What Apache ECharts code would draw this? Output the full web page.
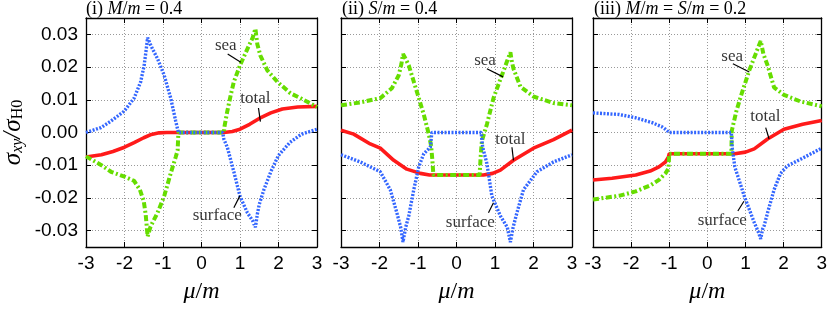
<!DOCTYPE html>
<html><head><meta charset="utf-8">
<script src="https://cdn.jsdelivr.net/npm/echarts@6/dist/echarts.min.js"></script>
<style>html,body{margin:0;padding:0;background:#fff}#c{width:830px;height:309px}</style>
</head><body><div id="c"></div><script>
// ---- data ----
const xTicks = [-3, -2, -1, 0, 1, 2, 3];
const yTicks = [-0.03, -0.02, -0.01, 0, 0.01, 0.02, 0.03];
const panelTitles = [
  '{n|(i) }{i|M}{n|/}{i|m}{n| = 0.4}',
  '{n|(ii) }{i|S}{n|/}{i|m}{n| = 0.4}',
  '{n|(iii) }{i|M}{n|/}{i|m}{n| = }{i|S}{n|/}{i|m}{n| = 0.2}'
];
const annoTexts = ['sea', 'total', 'surface'];

const p1Total = [[-3,-0.0075],[-2.6,-0.0068],[-2.3,-0.0058],[-2,-0.0045],[-1.75,-0.0031],[-1.5,-0.0016],[-1.3,-0.0006],[-1.1,-0.0001],[-0.9,0],[0.58,0],[0.8,0.0003],[1,0.001],[1.25,0.0025],[1.5,0.0043],[1.8,0.006],[2.1,0.0072],[2.5,0.0078],[3,0.008]];
const p1Sea = [[-3,-0.0073],[-2.6,-0.010],[-2.35,-0.012],[-2,-0.0135],[-1.75,-0.0148],[-1.6,-0.0175],[-1.5,-0.021],[-1.45,-0.025],[-1.4,-0.0318],[-1.33,-0.029],[-1.27,-0.0275],[-1.14,-0.0245],[-0.97,-0.0195],[-0.8,-0.0125],[-0.67,-0.0075],[-0.62,-0.0055],[-0.6,0],[0.58,0],[0.6,0.002],[0.67,0.0065],[0.76,0.0115],[0.84,0.0155],[1,0.0205],[1.19,0.0255],[1.33,0.029],[1.4,0.0317],[1.45,0.027],[1.53,0.0235],[1.71,0.019],[1.97,0.0155],[2.31,0.012],[2.57,0.0105],[3,0.0078]];
const p1Surface = [[-3,0],[-2.61,0.0015],[-2.35,0.0035],[-2.01,0.0065],[-1.75,0.0105],[-1.58,0.0155],[-1.49,0.0205],[-1.44,0.025],[-1.4,0.029],[-1.33,0.027],[-1.27,0.0255],[-1.14,0.0225],[-0.97,0.0175],[-0.8,0.0105],[-0.67,0.0035],[-0.6,0],[0.55,0],[0.58,-0.002],[0.67,-0.0045],[0.84,-0.012],[1,-0.0195],[1.19,-0.0245],[1.33,-0.027],[1.4,-0.029],[1.45,-0.025],[1.5,-0.022],[1.62,-0.0175],[1.8,-0.012],[2,-0.007],[2.3,-0.003],[2.6,-0.0005],[3,0.001]];

const p2Total = [[-3,0.0007],[-2.67,-0.0005],[-2.24,-0.0035],[-1.98,-0.0048],[-1.63,-0.0085],[-1.29,-0.0112],[-0.94,-0.0125],[-0.7,-0.013],[0.7,-0.013],[0.94,-0.0125],[1.14,-0.0115],[1.48,-0.0085],[2,-0.0048],[2.52,-0.0022],[3,0.0007]];
const p2Sea = [[-3,0.0083],[-2.5,0.0092],[-1.98,0.0105],[-1.68,0.0135],[-1.5,0.0175],[-1.43,0.021],[-1.39,0.024],[-1.32,0.0225],[-1.24,0.0205],[-1.03,0.0125],[-0.85,0.0055],[-0.72,-0.0005],[-0.66,-0.004],[-0.63,-0.008],[-0.6,-0.013],[0.6,-0.013],[0.63,-0.007],[0.66,-0.0025],[0.79,0.0025],[0.96,0.0105],[1.18,0.0175],[1.32,0.022],[1.4,0.0245],[1.44,0.0215],[1.48,0.0195],[1.66,0.014],[2,0.011],[2.52,0.009],[3,0.0083]];
const p2Surface = [[-3,-0.0068],[-2.5,-0.009],[-1.98,-0.012],[-1.72,-0.0175],[-1.55,-0.0245],[-1.45,-0.029],[-1.39,-0.0335],[-1.32,-0.029],[-1.24,-0.0255],[-1.11,-0.0175],[-0.98,-0.0105],[-0.85,-0.0065],[-0.68,-0.0045],[-0.64,0],[0.64,0],[0.68,-0.0045],[0.79,-0.0095],[0.92,-0.0195],[1.14,-0.0255],[1.32,-0.029],[1.4,-0.0335],[1.47,-0.029],[1.57,-0.0245],[1.74,-0.0175],[2.09,-0.012],[2.52,-0.009],[3,-0.0068]];

const p3Total = [[-3,-0.0145],[-2.5,-0.014],[-1.88,-0.013],[-1.5,-0.0118],[-1.27,-0.0105],[-1.1,-0.009],[-1.02,-0.0075],[-1,-0.0065],[0.72,-0.0065],[1,-0.006],[1.23,-0.005],[1.58,-0.002],[2.01,0.001],[2.5,0.0025],[3,0.0037]];
const p3Sea = [[-3,-0.0205],[-2.3,-0.0193],[-1.88,-0.018],[-1.5,-0.0162],[-1.27,-0.0145],[-1.1,-0.0125],[-1.02,-0.011],[-1,-0.0065],[0.63,-0.0065],[0.64,0.0005],[0.76,0.0065],[0.89,0.0115],[1.1,0.019],[1.25,0.0235],[1.4,0.028],[1.47,0.024],[1.58,0.0205],[1.75,0.0138],[2.01,0.0115],[2.44,0.0095],[3,0.008]];
const p3Surface = [[-3,0.006],[-2.31,0.0055],[-1.88,0.0045],[-1.45,0.003],[-1.2,0.0018],[-1.1,0.001],[-1,0],[0.63,0],[0.65,-0.0045],[0.72,-0.0105],[0.97,-0.0195],[1.23,-0.0275],[1.34,-0.0305],[1.4,-0.0325],[1.45,-0.0295],[1.49,-0.0285],[1.58,-0.0245],[1.75,-0.0175],[1.92,-0.0125],[2.1,-0.0102],[2.44,-0.0082],[3,-0.0048]];

// annotation anchor points (data coords): text positions and pointer segments
const p1AnnoText = [[0.63,0.0265],[1.40,0.0105],[0.41,-0.0255]];
const p1AnnoLine = [[[0.68,0.024],[1.02,0.0215]],[[1.48,0.0075],[1.53,0.0033]],[[0.84,-0.023],[1.0,-0.0193]]];
const p2AnnoText = [[0.74,0.022],[1.40,-0.002],[0.36,-0.0275]];
const p2AnnoLine = [[[0.79,0.0195],[1.21,0.017]],[[1.44,-0.0045],[1.48,-0.0085]],[[0.83,-0.0245],[0.96,-0.0215]]];
const p3AnnoText = [[0.65,0.0233],[1.52,0.005],[0.39,-0.027]];
const p3AnnoLine = [[[0.67,0.021],[1.10,0.0185]],[[1.53,0.0015],[1.62,-0.002]],[[0.80,-0.024],[0.96,-0.021]]];

const panels = [
  {total: p1Total, sea: p1Sea, surface: p1Surface, annoText: p1AnnoText, annoLine: p1AnnoLine},
  {total: p2Total, sea: p2Sea, surface: p2Surface, annoText: p2AnnoText, annoLine: p2AnnoLine},
  {total: p3Total, sea: p3Sea, surface: p3Surface, annoText: p3AnnoText, annoLine: p3AnnoLine}
];

// ---- layout / style ----
const gridLeft = [85, 341, 593];
const gridWidth = [232, 231, 232];
const SANS = 'Liberation Sans';
const SERIF = 'Liberation Serif';
const RED = '#ff1a1a', GREEN = '#66dd00', BLUE = '#3366ff';

const chart = echarts.init(document.getElementById('c'), null, {renderer: 'canvas'});

const grids = [], xAxes = [], yAxes = [], series = [], titles = [];
const titleRich = {
  n: {fontFamily: SERIF, fontSize: 18, fontWeight: 'normal', color: '#000'},
  i: {fontFamily: SERIF, fontSize: 18, fontWeight: 'normal', fontStyle: 'italic', color: '#000'}
};

panels.forEach((p, k) => {
  grids.push({left: gridLeft[k], top: 18, width: gridWidth[k], height: 232, show: false});
  titles.push({text: panelTitles[k], left: gridLeft[k] + 1, top: 0, padding: 0,
    textStyle: {fontWeight: 'normal', rich: titleRich}});
  const axLine = {show: true, onZero: false, lineStyle: {color: '#000', width: 1.3}};
  xAxes.push({
    type: 'value', gridIndex: k, min: -3, max: 3, interval: 1, position: 'bottom',
    axisLine: axLine, axisTick: {inside: true, length: 5, lineStyle: {color: '#000', width: 1}},
    axisLabel: {fontFamily: SANS, fontSize: 19, color: '#000', margin: 7,
      formatter: v => String(v)},
    splitLine: {show: true, lineStyle: {color: '#999', type: [1, 2], width: 1}},
    name: '{i|μ}{n|/}{i|m}', nameLocation: 'middle', nameGap: 33,
    nameTextStyle: {rich: {
      n: {fontFamily: SERIF, fontSize: 24, color: '#000'},
      i: {fontFamily: SERIF, fontSize: 24, fontStyle: 'italic', color: '#000'}}}
  });
  xAxes.push({
    type: 'value', gridIndex: k, min: -3, max: 3, interval: 1, position: 'top',
    axisLine: axLine, axisTick: {inside: true, length: 5, lineStyle: {color: '#000', width: 1}},
    axisLabel: {show: false}, splitLine: {show: false}
  });
  const yBase = {
    type: 'value', gridIndex: k, min: -0.035, max: 0.035,
    axisLine: axLine,
    axisTick: {inside: true, length: 5, customValues: yTicks, lineStyle: {color: '#000', width: 1}},
    splitLine: {show: false}
  };
  yAxes.push(Object.assign({}, yBase, {
    position: 'left',
    axisLabel: {show: k === 0, customValues: yTicks, fontFamily: SANS, fontSize: 19, color: '#000', margin: 8,
      formatter: v => v.toFixed(2)},
    splitLine: {show: true, lineStyle: {color: '#999', type: [1, 2], width: 1}},
    name: k === 0 ? '{s|σ}{sub|xy}{s|/σ}{sub2|H0}' : '',
    nameLocation: 'middle', nameRotate: 90, nameGap: 60,
    nameTextStyle: {rich: {
      s: {fontFamily: SERIF, fontSize: 25, fontStyle: 'italic', color: '#000'},
      sub: {fontFamily: SERIF, fontSize: 16, fontStyle: 'italic', color: '#000', padding: [9, 0, 0, 0]},
      sub2: {fontFamily: SERIF, fontSize: 16, color: '#000', padding: [9, 0, 0, 0]}}}
  }));
  yAxes.push(Object.assign({}, yBase, {position: 'right', axisLabel: {show: false}}));

  const xi = 2 * k, yi = 2 * k;
  series.push({
    type: 'line', name: 'total', xAxisIndex: xi, yAxisIndex: yi, data: p.total,
    showSymbol: false, symbol: 'none', z: 2, animation: false,
    lineStyle: {color: RED, width: 3.6}
  });
  series.push({
    type: 'line', name: 'sea', xAxisIndex: xi, yAxisIndex: yi, data: p.sea,
    showSymbol: false, symbol: 'none', z: 3, animation: false,
    lineStyle: {color: GREEN, width: 4, type: [6, 2.5, 2, 2.5]}
  });
  series.push({
    type: 'line', name: 'surface', xAxisIndex: xi, yAxisIndex: yi, data: p.surface,
    showSymbol: false, symbol: 'none', z: 4, animation: false,
    lineStyle: {color: BLUE, width: 3.4, type: [2, 1.5]},
    markLine: {
      silent: true, symbol: ['none', 'none'], animation: false,
      label: {show: false},
      lineStyle: {color: '#000', width: 1.2, type: 'solid'},
      data: p.annoLine.map(seg => [{coord: seg[0]}, {coord: seg[1]}])
    }
  });
  series.push({
    type: 'scatter', xAxisIndex: xi, yAxisIndex: yi, z: 5, animation: false, silent: true,
    symbolSize: 1, itemStyle: {color: 'rgba(0,0,0,0)'},
    data: p.annoText.map((c, j) => ({value: c, name: annoTexts[j]})),
    label: {show: true, position: 'inside', formatter: d => d.name,
      fontFamily: SERIF, fontSize: 17, color: '#000'}
  });
});

chart.setOption({
  animation: false,
  backgroundColor: '#fff',
  title: titles,
  grid: grids,
  xAxis: xAxes,
  yAxis: yAxes,
  series: series
});
</script></body></html>
